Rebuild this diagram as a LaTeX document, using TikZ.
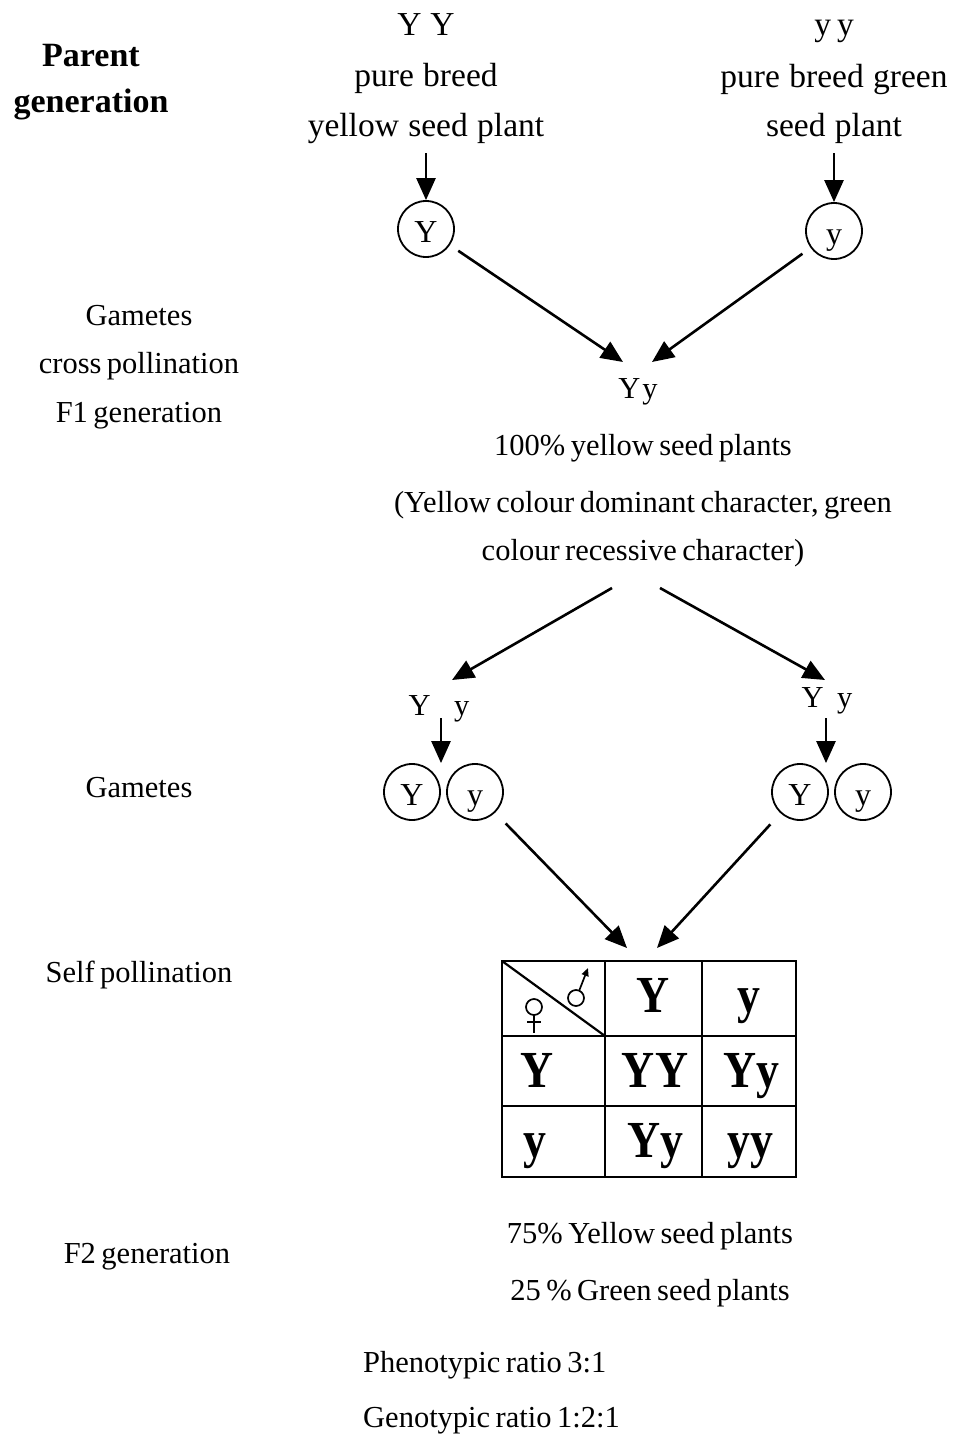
\documentclass[tikz,border=0pt]{standalone}
\usepackage{fontspec}
\usepackage{graphicx}
\setmainfont{Liberation Serif}
\usetikzlibrary{arrows.meta}
\newcommand{\celltxt}[1]{\scalebox{0.88}[1]{#1}}
\newcommand{\hdrfont}{\fontsize{33.5}{36}\selectfont\spaceskip 0.28em plus 0.1em\relax}
\newcommand{\bodyfont}{\fontsize{30.5}{34}\selectfont\spaceskip 0.18em plus 0.05em\relax}
\begin{document}
\begin{tikzpicture}[x=1pt,y=-1pt,
  hdr/.style={anchor=base, inner sep=0pt, font={\hdrfont}},
  txt/.style={anchor=base, inner sep=0pt, font={\bodyfont}},
  ttl/.style={anchor=base, inner sep=0pt,
    font=\fontsize{34}{38}\selectfont\bfseries},
  gam/.style={circle, draw, line width=1.8pt, minimum size=56pt, inner sep=0pt,
    text height=26pt, text depth=0pt,
    font=\fontsize{32}{34}\selectfont},
  arr/.style={line width=2.6pt, -{Triangle[length=22pt,width=19pt]}},
  grid/.style={line width=2.2pt},
  sym/.style={line width=1.7pt},
  cell/.style={anchor=base, inner sep=0pt,
    font=\fontsize{52}{52}\selectfont\bfseries}
]
\useasboundingbox (0,0) rectangle (957,1434);

% row labels
\node[ttl] (t1) at (91,67) {Parent};
\node[ttl] (t2) at (91,113) {generation};
\node[txt] (lg1) at (139,325) {Gametes};
\node[txt] (lcp) at (139,373) {cross pollination};
\node[txt] (lf1) at (139,422) {F1 generation};
\node[txt] (lg2) at (139,797) {Gametes};
\node[txt] (lsp) at (139,982) {Self pollination};
\node[txt] (lf2) at (147,1263) {F2 generation};

% parents
\node[hdr] (YY) at (426,36) {Y\hspace{9pt}Y};
\node[hdr] (pbL) at (426,87) {pure breed};
\node[hdr] (plL) at (426,137) {yellow seed plant};
\node[hdr] (yy) at (834,36) {y\hspace{6pt}y};
\node[hdr] (pbR) at (834,88) {pure breed green};
\node[hdr] (plR) at (834,137) {seed plant};

% parental gametes
\node[gam] (cY) at (426,229) {Y};
\node[gam] (cy) at (834,231) {y};
\draw[arr, shorten <=9pt] (plL.south) -- (cY.north);
\draw[arr, shorten <=9pt] (plR.south) -- (cy.north);

% F1
\coordinate (tipA) at (623,362);
\coordinate (tipB) at (652,362);
\draw[arr, shorten <=10pt] (cY) -- (tipA);
\draw[arr, shorten <=10pt] (cy) -- (tipB);
\node[txt] (f1) at (638,398) {Y\kern2pt y};
\node[txt] (p100) at (643,455) {100\% yellow seed plants};
\node[txt] (dom1) at (643,512) {(Yellow colour dominant character, green};
\node[txt] (dom2) at (643,560) {colour recessive character)};

% F1 selfing
\coordinate (sL) at (612,588);
\coordinate (sR) at (660,588);
\coordinate (tL) at (452,680);
\coordinate (tR) at (825,680);
\draw[arr] (sL) -- (tL);
\draw[arr] (sR) -- (tR);

\node[txt] (gl) at (439,715) {Y\hspace{23.5pt}y};
\node[txt] (gr) at (827,707) {Y\hspace{13.5pt}y};

\node[gam] (gYl) at (412,792) {Y};
\node[gam] (gyl) at (475,792) {y};
\node[gam] (gYr) at (800,792) {Y};
\node[gam] (gyr) at (863,792) {y};

\coordinate (dL) at (441,718);
\coordinate (dR) at (826,718);
\draw[arr] (dL) -- (dL |- gYl.north);
\draw[arr] (dR) -- (dR |- gYr.north);

% into the Punnett square
\coordinate (tC) at (627,948);
\coordinate (tD) at (657,948);
\draw[arr, shorten <=15pt] (gyl) -- (tC);
\draw[arr, shorten <=15pt] (gYr) -- (tD);

% Punnett square
\coordinate (q00) at (502,961);
\coordinate (q33) at (796,1177);
\draw[grid] (q00) rectangle (q33);
\draw[grid] (605,961) -- (605,1177);
\draw[grid] (702,961) -- (702,1177);
\draw[grid] (502,1036) -- (796,1036);
\draw[grid] (502,1106) -- (796,1106);
\draw[grid] (q00) -- (605,1036);

% female and male signs
\draw[sym] (534,1007) circle (8);
\draw[sym] (534,1015) -- (534,1033);
\draw[sym] (527,1022) -- (541,1022);
\draw[sym] (576,998) circle (8);
\draw[sym, -{Triangle[length=8pt,width=7pt]}] (579.2,990.6) -- (588,968);

\node[cell] (h1) at (653,1012) {\celltxt{Y}};
\node[cell] (h2) at (749,1012) {\celltxt{y}};
\node[cell] (r1) at (537,1087) {\celltxt{Y}};
\node[cell] (c11) at (655,1087) {\celltxt{YY}};
\node[cell] (c12) at (751,1087) {\celltxt{Yy}};
\node[cell] (r2) at (535,1157) {\celltxt{y}};
\node[cell] (c21) at (655,1157) {\celltxt{Yy}};
\node[cell] (c22) at (750,1157) {\celltxt{yy}};

% F2 results
\node[txt] (p75) at (650,1243) {75\% Yellow seed plants};
\node[txt] (p25) at (650,1300) {25 \% Green seed plants};
\node[txt, anchor=base west] (phen) at (363,1372) {Phenotypic ratio 3:1};
\node[txt, anchor=base west] (geno) at (363,1427) {Genotypic ratio 1:2:1};
\end{tikzpicture}
\end{document}
